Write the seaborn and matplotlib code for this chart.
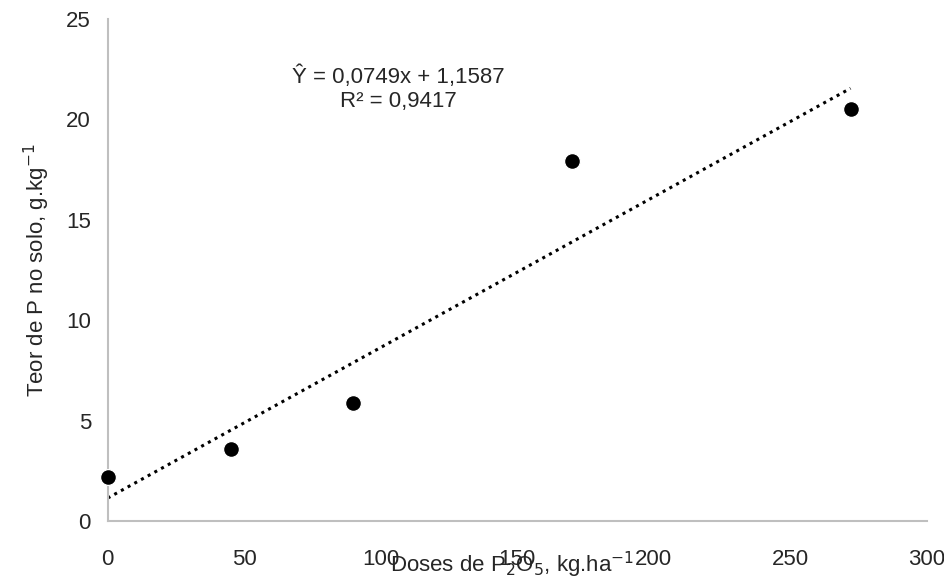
import numpy as np
import pandas as pd
import matplotlib
matplotlib.use("Agg")
import matplotlib.pyplot as plt
import seaborn as sns

doses = [0, 45, 90, 170, 272]
teor_p = [2.2, 3.6, 5.9, 17.9, 20.5]
slope, intercept = 0.0749, 1.1587

sns.set_style("white")
plt.rcParams['font.family'] = ['Liberation Sans', 'DejaVu Sans']

df = pd.DataFrame({"dose": doses, "p": teor_p})

fig = plt.figure(figsize=(9.44, 5.8), dpi=100)
ax = fig.add_axes([0.114, 0.101, 0.868, 0.867])
sns.scatterplot(data=df, x="dose", y="p", color="black", s=130, ax=ax, zorder=3,
                clip_on=False)

xs = np.array([min(doses), max(doses)])
ax.plot(xs, slope * xs + intercept, color="black", linestyle=(0, (1, 1.5)), linewidth=2.2)

ax.set_xlim(0, 300)
ax.set_ylim(0, 25)
ax.set_xticks(range(0, 301, 50))
ax.set_yticks(range(0, 26, 5))
ax.tick_params(labelsize=16, length=0)
ax.tick_params(axis="x", pad=20)
ax.tick_params(axis="y", pad=12)
for s in ["top", "right"]:
    ax.spines[s].set_visible(False)
for s in ["left", "bottom"]:
    ax.spines[s].set_color("#bfbfbf")
    ax.spines[s].set_linewidth(1.5)
ax.set_xlabel("")
ax.set_ylabel("Teor de P no solo, g.kg$^{-1}$", fontsize=16, labelpad=10)

fig.text(0.542, 0.0, "Doses de P$_2$O$_5$, kg.ha$^{-1}$", fontsize=16, ha="center", va="bottom")
ax.text(0.355, 0.86, "Ŷ = 0,0749x + 1,1587\nR² = 0,9417", transform=ax.transAxes,
        fontsize=16, ha="center", va="center", linespacing=1.2)

fig.savefig("out.png", dpi=100)
